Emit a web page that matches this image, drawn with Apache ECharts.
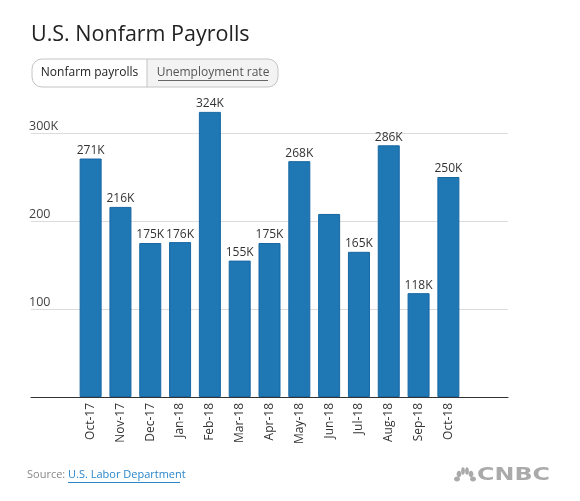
<!DOCTYPE html>
<html>
<head>
<meta charset="utf-8">
<script src="https://cdn.jsdelivr.net/npm/echarts@6/dist/echarts.min.js"></script>
<style>
html,body{margin:0;padding:0;background:#fff;}
#chart{width:580px;height:501px;}
</style>
</head>
<body>
<div id="chart"></div>
<script>
var categories = ['Oct-17','Nov-17','Dec-17','Jan-18','Feb-18','Mar-18','Apr-18','May-18','Jun-18','Jul-18','Aug-18','Sep-18','Oct-18'];
var payrolls = [271, 216, 175, 176, 324, 155, 175, 268, 208, 165, 286, 118, 250];
var barLabels = ['271K','216K','175K','176K','324K','155K','175K','268K','','165K','286K','118K','250K'];
var yTickLabels = {100: '100', 200: '200', 300: '300K'};

var FONT = '"Open Sans", sans-serif';
var chart = echarts.init(document.getElementById('chart'), null, {renderer: 'canvas'});

var seriesData = payrolls.map(function (v, i) { return [i, v]; });

var option = {
  backgroundColor: '#fff',
  animation: false,
  textStyle: {fontFamily: FONT},
  grid: {left: 31, right: 72, top: 89, bottom: 104},
  xAxis: {
    type: 'value',
    min: -2, max: 14, interval: 1,
    axisLine: {show: true, lineStyle: {color: '#333', width: 1}},
    axisTick: {show: false},
    splitLine: {show: false},
    axisLabel: {
      rotate: 90, color: '#333', fontSize: 12, fontFamily: FONT, margin: 6,
      formatter: function (v) { return (v >= 0 && v < categories.length) ? categories[v] : ''; }
    }
  },
  yAxis: {
    type: 'value',
    min: 0, max: 350, interval: 100,
    axisLine: {show: false},
    axisTick: {show: false},
    splitLine: {show: true, showMinLine: false, showMaxLine: false, lineStyle: {color: '#dcdcdc', width: 1}},
    axisLabel: {
      inside: true, align: 'left', verticalAlign: 'bottom', margin: -2,
      color: '#444', fontSize: 12.5, fontFamily: FONT,
      showMinLabel: false, showMaxLabel: false,
      formatter: function (v) { return yTickLabels[v] || ''; }
    }
  },
  series: [{
    type: 'bar',
    data: seriesData,
    barWidth: 22,
    itemStyle: {color: '#1f77b4', borderColor: '#1767a3', borderWidth: 1},
    label: {
      show: true, position: 'top', distance: 2,
      color: '#333', fontSize: 12, fontFamily: FONT,
      formatter: function (p) { return barLabels[p.dataIndex]; }
    }
  }],
  graphic: [
    {type: 'text', left: 31, top: 24, style: {text: 'U.S. Nonfarm Payrolls', font: '21.5px ' + FONT, fill: '#222'}},
    {type: 'rect', shape: {x: 147, y: 59, width: 131, height: 28, r: [0, 10, 10, 0]}, style: {fill: '#f3f3f3', stroke: null}},
    {type: 'rect', shape: {x: 32, y: 59, width: 246, height: 28, r: 10}, style: {fill: 'none', stroke: '#c4c4c4', lineWidth: 1}},
    {type: 'line', shape: {x1: 147, y1: 59, x2: 147, y2: 87}, style: {stroke: '#c4c4c4', lineWidth: 1}},
    {type: 'text', x: 89.5, y: 73, style: {text: 'Nonfarm payrolls', font: '12px ' + FONT, fill: '#222', align: 'center', verticalAlign: 'middle'}},
    {type: 'text', x: 213, y: 73, style: {text: 'Unemployment rate', font: '12px ' + FONT, fill: '#555', align: 'center', verticalAlign: 'middle'}},
    {type: 'line', shape: {x1: 158, y1: 80.5, x2: 268, y2: 80.5}, style: {stroke: '#666', lineWidth: 1}},
    {type: 'text', x: 27, y: 475, style: {text: 'Source:', font: '11px ' + FONT, fill: '#888', verticalAlign: 'middle'}},
    {type: 'text', x: 68, y: 475, style: {text: 'U.S. Labor Department', font: '11px ' + FONT, fill: '#2a86c9', verticalAlign: 'middle'}},
    {type: 'line', shape: {x1: 68, y1: 482.5, x2: 180, y2: 482.5}, style: {stroke: '#2a86c9', lineWidth: 1}},
    {type: 'group', x: 477, y: 476, scaleX: 1.4, children: [
      {type: 'text', x: 0, y: 0, style: {text: 'CNBC', font: 'bold 17px "DejaVu Sans", sans-serif', fill: '#aaa', verticalAlign: 'middle'}}
    ]},
    {type: 'group', x: 465, y: 482, children: [
      {type: 'ellipse', shape: {cx: -8, cy: -3, rx: 3, ry: 2.4}, style: {fill: '#aaa'}},
      {type: 'ellipse', shape: {cx: -6, cy: -8, rx: 2.4, ry: 3.2}, style: {fill: '#aaa'}},
      {type: 'ellipse', shape: {cx: -2, cy: -11, rx: 1.9, ry: 3.8}, style: {fill: '#aaa'}},
      {type: 'ellipse', shape: {cx: 2, cy: -11, rx: 1.9, ry: 3.8}, style: {fill: '#aaa'}},
      {type: 'ellipse', shape: {cx: 6, cy: -8, rx: 2.4, ry: 3.2}, style: {fill: '#aaa'}},
      {type: 'ellipse', shape: {cx: 8, cy: -3, rx: 3, ry: 2.4}, style: {fill: '#aaa'}}
    ]}
  ]
};
chart.setOption(option);
</script>
</body>
</html>
